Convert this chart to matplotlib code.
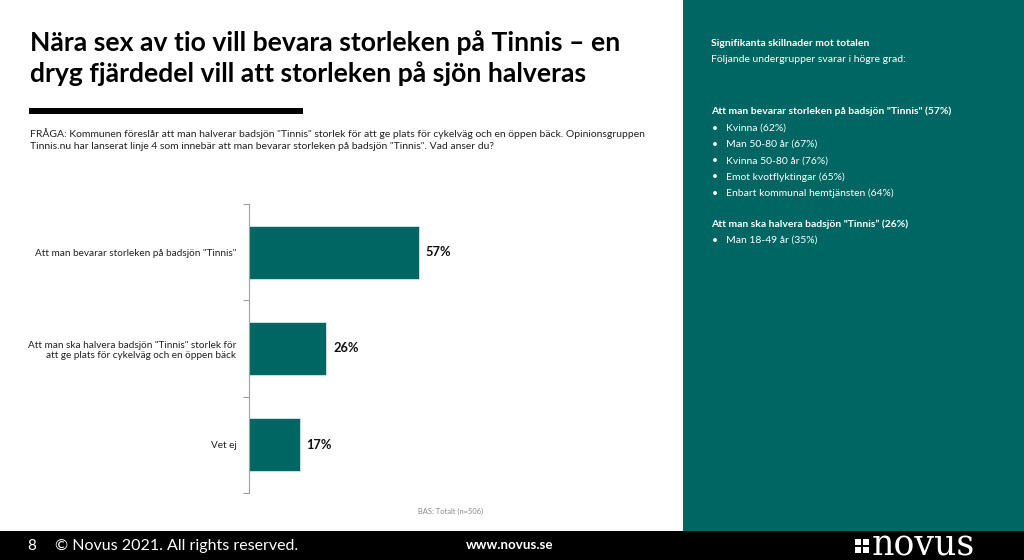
import matplotlib
matplotlib.use("Agg")
import matplotlib.pyplot as plt
from matplotlib.patches import Rectangle

categories = ['Att man bevarar storleken på badsjön "Tinnis"',
              'Att man ska halvera badsjön "Tinnis" storlek för\natt ge plats för cykelväg och en öppen bäck',
              'Vet ej']
values = [57, 26, 17]
value_labels = ['57%', '26%', '17%']

title = 'Nära sex av tio vill bevara storleken på Tinnis – en\ndryg fjärdedel vill att storleken på sjön halveras'
question = ('FRÅGA: Kommunen föreslår att man halverar badsjön "Tinnis" storlek för att ge plats för cykelväg och en öppen bäck. Opinionsgruppen\n'
            'Tinnis.nu har lanserat linje 4 som innebär att man bevarar storleken på badsjön "Tinnis". Vad anser du?')
side_head1 = 'Signifikanta skillnader mot totalen'
side_head2 = 'Följande undergrupper svarar i högre grad:'
group1_title = 'Att man bevarar storleken på badsjön "Tinnis" (57%)'
group1_items = ['Kvinna (62%)', 'Man 50-80 år (67%)', 'Kvinna 50-80 år (76%)',
                'Emot kvotflyktingar (65%)', 'Enbart kommunal hemtjänsten (64%)']
group2_title = 'Att man ska halvera badsjön "Tinnis” (26%)'
group2_items = ['Man 18-49 år (35%)']
base_note = 'BAS: Totalt (n=506)'
footer_page = '8'
footer_copy = '© Novus 2021. All rights reserved.'
footer_url = 'www.novus.se'
logo = 'novus'

TEAL = '#006663'
W, H = 1024, 560
plt.rcParams['font.family'] = ['Lato', 'DejaVu Sans']

fig = plt.figure(figsize=(W/100, H/100), dpi=100)
fig.patch.set_facecolor('white')

def fx(x): return x / W
def fy(y): return 1 - y / H

# background panels
fig.patches.append(Rectangle((fx(683), fy(531)), fx(W-683), 531/H, transform=fig.transFigure,
                             facecolor=TEAL, edgecolor='none', zorder=0))
fig.patches.append(Rectangle((0, 0), 1, 29/H, transform=fig.transFigure,
                             facecolor='black', edgecolor='none', zorder=0))
fig.patches.append(Rectangle((fx(29), fy(114)), fx(274), 6/H, transform=fig.transFigure,
                             facecolor='black', edgecolor='none', zorder=1))

# title
fig.text(fx(30), fy(30), title, fontsize=19.1, fontweight='bold', color='black',
         va='top', ha='left', linespacing=1.32)
fig.text(fx(30), fy(128), question, fontsize=7.45, color='#222222', va='top', ha='left',
         linespacing=1.4)

# chart axes
x0, x1 = 249, 249 + 2.98 * 70
ytop, ybot = 204, 493
ax = fig.add_axes([fx(x0), fy(ybot), fx(x1 - x0), (ybot - ytop)/H])
ypos = list(range(len(categories)))
ax.barh(ypos, values, height=0.55, color=TEAL, edgecolor='#d9e6e5', linewidth=0.6)
ax.set_ylim(len(categories) - 0.5, -0.5)
ax.set_xlim(0, 70)
ax.set_yticks([i - 0.5 for i in range(len(categories) + 1)], minor=False)
ax.set_yticklabels([])
ax.set_yticks(ypos, minor=True)
ax.set_yticklabels(categories, minor=True, fontsize=7.2, color='#222222', ha='right')
ax.tick_params(axis='y', which='major', length=4, color='#a0a0a0', width=0.8)
ax.tick_params(axis='y', which='minor', length=0, pad=9)
for lbl in ax.get_yticklabels(minor=True):
    lbl.set_multialignment('right')
ax.set_xticks([])
for s in ['top', 'right', 'bottom']:
    ax.spines[s].set_visible(False)
ax.spines['left'].set_color('#a0a0a0')
ax.spines['left'].set_linewidth(0.8)
ax.set_facecolor('none')
for i, (v, t) in enumerate(zip(values, value_labels)):
    ax.text(v + 2.3, i, t, va='center', ha='left', fontsize=9.3, fontweight='bold', color='#111111')

fig.text(fx(418), fy(511), base_note, fontsize=5.4, color='#888888', va='center', ha='left')

# side panel
sx = 711
fs = 7.5
fig.text(fx(sx), fy(43), side_head1, fontsize=fs, fontweight='bold', color='white', va='center')
fig.text(fx(sx), fy(59), side_head2, fontsize=fs, color='white', va='center')
fig.text(fx(sx), fy(111), group1_title, fontsize=fs, fontweight='bold', color='white', va='center')
y = 128
for item in group1_items:
    fig.text(fx(sx + 1), fy(y), '•', fontsize=fs, color='white', va='center')
    fig.text(fx(sx + 15), fy(y), item, fontsize=fs, color='white', va='center')
    y += 16.3
fig.text(fx(sx), fy(224), group2_title, fontsize=fs, fontweight='bold', color='white', va='center')
y = 240
for item in group2_items:
    fig.text(fx(sx + 1), fy(y), '•', fontsize=fs, color='white', va='center')
    fig.text(fx(sx + 15), fy(y), item, fontsize=fs, color='white', va='center')

# footer
fig.text(fx(27), fy(546), footer_page, fontsize=11, color='white', va='center')
fig.text(fx(55), fy(546), footer_copy, fontsize=11.5, color='white', va='center')
fig.text(fx(510), fy(545), footer_url, fontsize=9.6, fontweight='bold', color='white',
         va='center', ha='center')
# logo squares
for cx in (855, 863):
    for cy in (539, 547):
        fig.patches.append(Rectangle((fx(cx), fy(cy + 6)), 6/W, 6/H, transform=fig.transFigure,
                                     facecolor='white', edgecolor='none', zorder=2))
fig.text(fx(872), fy(555), logo, fontsize=25, color='white', va='baseline', ha='left',
         family=['DejaVu Serif'])

fig.savefig('out.png', dpi=100, facecolor='white')
